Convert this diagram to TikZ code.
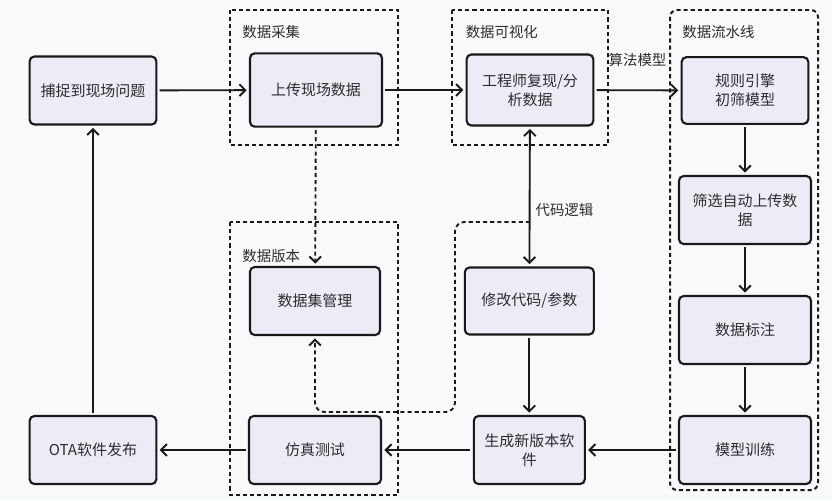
\documentclass[tikz,border=0pt]{standalone}
\usepackage{fontspec}
\usepackage{tikz}
\usetikzlibrary{arrows.meta, positioning}
\newfontfamily\cjk{Noto Sans CJK SC}
\definecolor{Fondo}{RGB}{248, 249, 251}
\definecolor{Caja}{RGB}{236, 236, 247}
\definecolor{Borde}{RGB}{25, 25, 25}
\definecolor{Texto}{RGB}{45, 45, 45}

\begin{document}
\begin{tikzpicture}[
        box/.style={
            rectangle,
            draw=Borde,
            fill=Caja,
            rounded corners=4pt,
            line width=1.8pt,
            minimum width=3.8cm,
            minimum height=2.04cm,
            align=center,
            text=Texto,
            font=\cjk\fontsize{12.8}{16}\selectfont
        },
        group/.style={
            draw=Borde,
            line width=1.7pt,
            dash pattern=on 3.5pt off 2.6pt
        },
        grouplabel/.style={
            anchor=west,
            text=Texto,
            font=\cjk\fontsize{12.3}{14}\selectfont
        },
        arrow/.style={
            -{Straight Barb[length=5pt, width=10pt, line width=1.6pt]},
            line width=1.6pt,
            draw=Borde,
            shorten >=2pt,
            shorten <=2pt
        },
        dasharrow/.style={
            arrow,
            dash pattern=on 3.5pt off 2.6pt
        }
    ]
        % Canvas (832 x 500 px, 1 px = 0.03 cm)
        \fill[Fondo] (0, 0) rectangle (24.96, -15);
        \useasboundingbox (0, 0) rectangle (24.96, -15);

        % Dashed groups
        \draw[group] (6.9, -0.3) rectangle (11.94, -4.35);
        \draw[group] (13.56, -0.3) rectangle (18.24, -4.35);
        \draw[group, rounded corners=6pt] (20.1, -0.3) rectangle (24.54, -14.7);
        \draw[group] (6.9, -6.66) rectangle (11.94, -14.85);
        \node[grouplabel] (gcollect) at (7.15, -0.96) {数据采集};
        \node[grouplabel] (gvisual) at (13.85, -0.96) {数据可视化};
        \node[grouplabel] (gpipe) at (20.35, -0.96) {数据流水线};
        \node[grouplabel] (gversion) at (7.15, -7.68) {数据版本};

        % Nodes
        \node[box] (capture) at (2.79, -2.715) {捕捉到现场问题};
        \node[box, minimum width=3.96cm, minimum height=2.2cm] (upload) at (9.48, -2.7) {上传现场数据};
        \node[box, minimum height=2.13cm] (engineer) at (15.9, -2.7) {工程师复现/分\\析数据};
        \node[box, minimum height=2.0cm] (rules) at (22.35, -2.715) {规则引擎\\初筛模型};
        \node[box, minimum width=3.96cm] (select) at (22.35, -6.3) {筛选自动上传数\\据};
        \node[box, minimum width=3.96cm] (label) at (22.35, -9.9) {数据标注};
        \node[box, minimum width=3.96cm] (train) at (22.35, -13.5) {模型训练};
        \node[box, minimum width=3.33cm] (build) at (15.88, -13.5) {生成新版本软\\件};
        \node[box, minimum width=3.87cm, minimum height=2.01cm] (modify) at (15.88, -9.03) {修改代码/参数};
        \node[box, minimum width=3.96cm] (simulate) at (9.45, -13.5) {仿真测试};
        \node[box, minimum width=3.9cm] (dataset) at (9.45, -9.03) {数据集管理};
        \node[box] (ota) at (2.79, -13.5) {OTA软件发布};

        % Main loop
        \draw[arrow] (capture) -- (upload);
        \draw[arrow] (upload) -- (engineer);
        \draw[arrow] (engineer) -- node[grouplabel, anchor=south, yshift=16pt] (algo) {算法模型} (rules);
        \draw[arrow] (rules) -- (select);
        \draw[arrow] (select) -- (label);
        \draw[arrow] (label) -- (train);
        \draw[arrow] (train) -- (build);
        \draw[arrow] (build) -- (simulate);
        \draw[arrow] (simulate) -- (ota);
        \draw[arrow] (ota) -- (capture);
        \draw[arrow] (modify) -- (build);
        \draw[arrow, {Straight Barb[length=5pt, width=10pt, line width=1.6pt]}-{Straight Barb[length=5pt, width=10pt, line width=1.6pt]}] (engineer) -- node[grouplabel, pos=0.6, xshift=1pt] (logic) {代码逻辑} (modify);

        % Data versioning links
        \coordinate (tap) at (15.9, -6.66);
        \draw[dasharrow] (upload) -- (dataset);
        \draw[dasharrow, rounded corners=8pt, shorten <=0pt] (tap) -| (13.65, -12.36) -| (dataset.south);
    \end{tikzpicture}
\end{document}
